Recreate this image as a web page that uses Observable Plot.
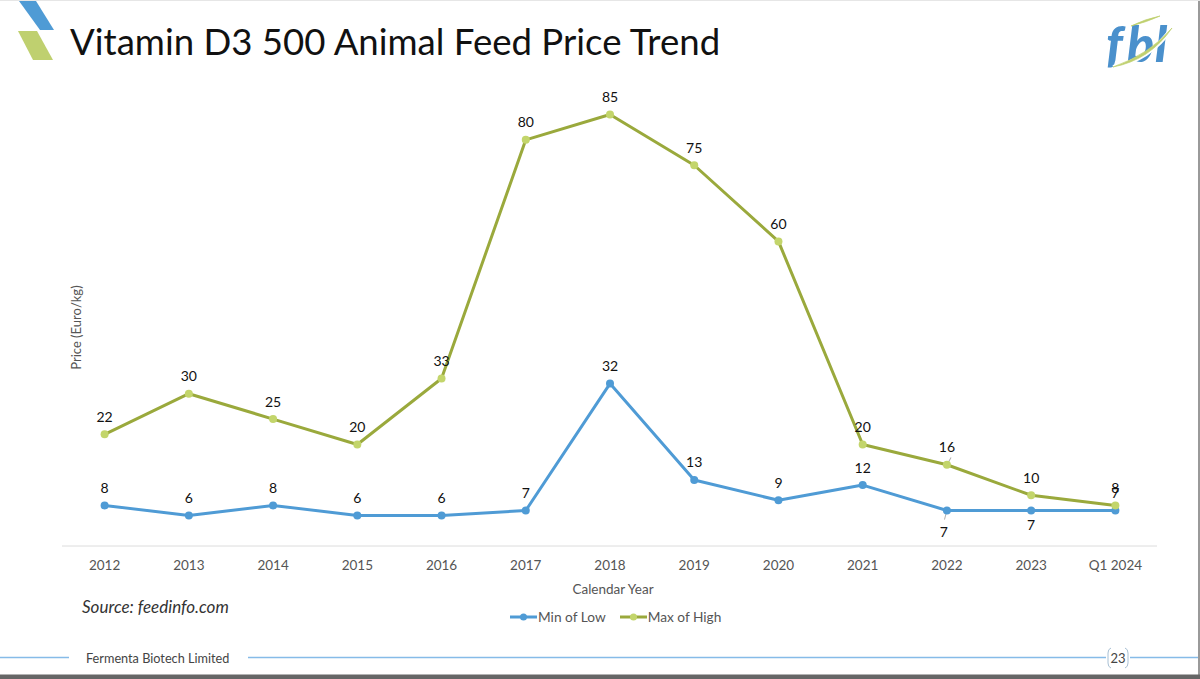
<!DOCTYPE html>
<html>
<head>
<meta charset="utf-8">
<script src="https://cdn.jsdelivr.net/npm/d3@7"></script>
<script src="https://cdn.jsdelivr.net/npm/@observablehq/plot@0.6"></script>
<style>
html,body{margin:0;padding:0;background:#fff;}
#page{position:relative;width:1200px;height:679px;overflow:hidden;font-family:Lato,sans-serif;background:#fff;}
#chart{position:absolute;left:0;top:0;}
#chart svg{display:block;background:transparent;}
.abs{position:absolute;white-space:nowrap;}
#title{left:70px;top:18px;font-size:36.6px;line-height:46px;color:#111;}
#source{left:82px;top:597px;font-size:17px;line-height:20px;font-style:italic;color:#333;}
#footer{left:86px;top:650px;font-size:12.7px;line-height:16px;color:#444;}
#pageno{left:1108px;top:650px;width:20px;text-align:center;font-size:13px;line-height:16px;color:#444;}
#legend{left:510px;top:608px;display:flex;gap:14px;font-size:13.7px;line-height:18px;color:#555;}
#legend span{display:flex;align-items:center;gap:1px;}
</style>
</head>
<body>
<div id="page">
<svg class="abs" style="left:0;top:0" width="1200" height="679" aria-hidden="true">
  <polygon points="19,1 36,1 54,30 40,30" fill="#4f9bd5"/>
  <polygon points="18,31 37,31 53,60 33,60" fill="#bfd06f"/>
  <text y="62" font-family="Lato" font-weight="900" font-style="italic" font-size="50" fill="#4a90cc"><tspan x="1106">f</tspan><tspan x="1127">b</tspan><tspan x="1155">l</tspan></text>
  <path d="M1113,67 Q1150,60 1172,28" fill="none" stroke="#fff" stroke-width="4"/>
  <path d="M1131,26 Q1145,19 1160,16 Q1147,22 1131,26Z M1113,67 Q1150,60 1172,28 Q1150,54 1113,67Z" fill="#bfd06f" stroke="#bfd06f" stroke-width=".7"/>
  <line x1="0" x2="69" y1="657.5" y2="657.5" stroke="#86bbe8" stroke-width="1.6"/>
  <line x1="248" x2="1106" y1="657.5" y2="657.5" stroke="#86bbe8" stroke-width="1.6"/>
  <line x1="1130" x2="1198" y1="657.5" y2="657.5" stroke="#86bbe8" stroke-width="1.6"/>
  <path d="M1111,648 Q1108,649 1108,653 L1108,663 Q1108,667 1111,668 M1125,648 Q1128,649 1128,653 L1128,663 Q1128,667 1125,668" fill="none" stroke="#a8c0d4"/>
  <rect x="1198" y="0" width="2" height="679" fill="#9a9a9a"/>
  <rect x="0" y="674.5" width="1200" height="4.5" fill="#666"/>
  <rect x="0" y="0" width="1200" height="1" fill="#e6e6e6"/>
</svg>
<div id="chart" class="abs"></div>
<div id="title" class="abs">Vitamin D3 500 Animal Feed Price Trend</div>
<div id="source" class="abs">Source: feedinfo.com</div>
<div id="footer" class="abs">Fermenta Biotech Limited</div>
<div id="pageno" class="abs">23</div>
<div id="legend" class="abs">
  <span><svg width="27" height="10"><line x1="0" x2="27" y1="5" y2="5" stroke="#4f9bd5" stroke-width="3"/><circle cx="13.5" cy="5" r="3.5" fill="#4f9bd5"/></svg>Min of Low</span>
  <span><svg width="27" height="10"><line x1="0" x2="27" y1="5" y2="5" stroke="#9aa93c" stroke-width="3"/><circle cx="13.5" cy="5" r="3.5" fill="#c3d56b"/></svg>Max of High</span>
</div>
</div>
<script>
const categories = ["2012","2013","2014","2015","2016","2017","2018","2019","2020","2021","2022","2023","Q1 2024"];
const minOfLow  = [8,6,8,6,6,7,32,13,9,12,7,7,7];
const maxOfHigh = [22,30,25,20,33,80,85,75,60,20,16,10,8];
const lowRows  = categories.map((c,i)=>({c, v:minOfLow[i]}));
const highRows = categories.map((c,i)=>({c, v:maxOfHigh[i]}));
const blue = "#4f9bd5", green = "#9aa93c", greenDot = "#c3d56b";
const labelFont = {fontSize:14, fill:"#111", text:d=>String(d.v), x:"c", y:"v"};
const leaderShape = {draw(ctx,l){ctx.moveTo(0,0);ctx.lineTo(0,-l);}};
const leader = {x:"c",y:"v",anchor:"start",shape:leaderShape,stroke:"#b0b0b0",strokeWidth:1};

const chart = Plot.plot({
  width:1200, height:679,
  marginLeft:62, marginRight:43, marginTop:88.6, marginBottom:133.5,
  style:{fontFamily:"Lato, sans-serif", background:"transparent", overflow:"visible"},
  x:{type:"point", domain:categories, padding:0.5, round:false},
  y:{domain:[0,90]},
  marks:[
    Plot.ruleY([0],{stroke:"#dcdcdc", strokeWidth:1}),
    Plot.axisX({tickSize:0, tickPadding:14, fontSize:13.5, color:"#555", label:null}),
    Plot.axisY({ticks:[], label:null}),
    Plot.text(["Calendar Year"],{frameAnchor:"bottom",dx:3,dy:48,fontSize:13.5,fill:"#555"}),
    Plot.text(["Price (Euro/kg)"],{frameAnchor:"left",textAnchor:"middle",rotate:-90,dx:14,dy:10,fontSize:13,fill:"#555"}),
    Plot.vector(highRows.filter(d=>d.c==="2022"),{...leader,length:8,rotate:30}),
    Plot.vector(lowRows.filter(d=>d.c==="2022"),{...leader,length:9,rotate:195}),
    Plot.line(lowRows,{x:"c",y:"v",stroke:blue,strokeWidth:3,curve:"linear"}),
    Plot.line(highRows,{x:"c",y:"v",stroke:green,strokeWidth:3,curve:"linear"}),
    Plot.dot(lowRows,{x:"c",y:"v",r:4,fill:blue}),
    Plot.dot(highRows,{x:"c",y:"v",r:4,fill:greenDot}),
    Plot.text(lowRows.filter(d=>d.c!=="2022"&&d.c!=="2023"),{...labelFont,dy:-17}),
    Plot.text(lowRows.filter(d=>d.c==="2022"),{...labelFont,dx:-3,dy:22}),
    Plot.text(lowRows.filter(d=>d.c==="2023"),{...labelFont,dy:15}),
    Plot.text(highRows,{...labelFont,dy:-17})
  ]
});
document.getElementById("chart").appendChild(chart);
</script>
</body>
</html>
